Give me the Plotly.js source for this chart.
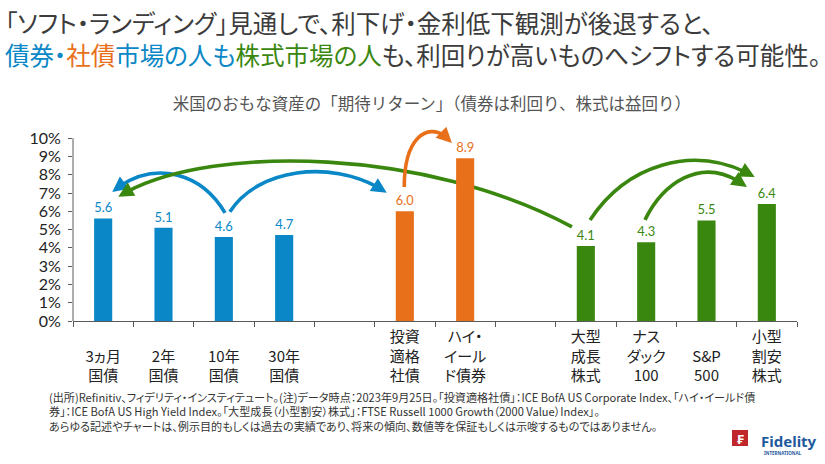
<!DOCTYPE html>
<html><head><meta charset="utf-8">
<script src="https://cdn.plot.ly/plotly-3.0.1.min.js"></script>
<style>
html,body{margin:0;padding:0;background:#fff;}
#chart{width:825px;height:464px;}
svg text{font-feature-settings:"palt" 1;}
.annotation[data-index="6"] text{font-feature-settings:normal;}
</style>
</head><body><div id="chart"></div>
<script>
// ---- data ----
const bondCats = ['3ヵ月<br>国債', '2年<br>国債', '10年<br>国債', '30年<br>国債'];
const bondVals = [5.6, 5.1, 4.6, 4.7];
const corpCats = ['投資<br>適格<br>社債', 'ハイ・<br>イール<br>ド債券'];
const corpVals = [6.0, 8.9];
const equityCats = ['大型<br>成長<br>株式', 'ナス<br>ダック<br>100', 'S&P<br>500', '小型<br>割安<br>株式'];
const equityVals = [4.1, 4.3, 5.5, 6.4];
const spacers = ['\u2002', '\u2003'];
const yTicks = [0,1,2,3,4,5,6,7,8,9,10];

// ---- style ----
const BLUE = '#0a87c6', ORANGE = '#e8701b', GREEN = '#3a870f', TEXT = '#333333', AXIS = '#5a5a5a';
const FONT = '"Noto Sans CJK JP", "Noto Sans", sans-serif';
const NUMFONT = 'Lato, "Noto Sans", sans-serif';
const W = 825, H = 464, L = 73, R = 797, T = 129, B = 321, YMAX = 10.5;
const PX = x => (x - L) / (R - L);
const PY = y => (B - y) / (B - T);

// two-line labels get a leading blank line so that they sit lower, like the reference
const lab = c => c.split('<br>').length < 3 ? '\u00a0<br>' + c : c;
const bc = bondCats.map(lab), cc = corpCats.map(lab), ec = equityCats.map(lab);
const fmt = v => (v == null ? '' : v.toFixed(1));

function barTrace(xs, ys, color) {
  return {
    type: 'bar', x: xs, y: ys, width: 0.3,
    marker: {color: color, line: {width: 0}},
    text: ys.map(fmt), textposition: 'outside', cliponaxis: false,
    textfont: {family: NUMFONT, size: 16.5, color: color},
    hoverinfo: 'skip', showlegend: false
  };
}
const traces = [
  barTrace(bc.concat([spacers[0]]), bondVals.concat([null]), BLUE),
  barTrace(cc.concat([spacers[1]]), corpVals.concat([null]), ORANGE),
  barTrace(ec, equityVals, GREEN)
];
const catOrder = bc.concat([spacers[0]], cc, [spacers[1]], ec);

// ---- curved arrows (category index, percent) ----
const arrows = [
  {c: BLUE,   p: [[2.02,5.91],[1.60,8.26],[0.78,8.81],[0.15,7.06]]},
  {c: BLUE,   p: [[2.10,5.97],[2.60,8.54],[3.93,8.81],[4.70,7.01]]},
  {c: GREEN,  p: [[7.77,5.15],[5.25,9.63],[1.61,9.63],[0.25,6.79]]},
  {c: ORANGE, p: [[4.99,7.33],[4.99,10.50],[5.50,10.95],[5.78,9.74]]},
  {c: GREEN,  p: [[8.07,5.53],[8.73,8.81],[9.89,9.63],[10.80,7.88]]},
  {c: GREEN,  p: [[8.98,5.53],[9.31,7.72],[9.98,9.09],[10.67,7.33]]}
];
const sx = (R - L) / 12, sy = (B - T) / YMAX;
const lerp = (a, b, t) => [a[0] + (b[0]-a[0])*t, a[1] + (b[1]-a[1])*t];
function bez(p, t) {
  const a = lerp(p[0],p[1],t), b = lerp(p[1],p[2],t), c = lerp(p[2],p[3],t);
  const d = lerp(a,b,t), e = lerp(b,c,t);
  return {pt: lerp(d,e,t), left: [p[0], a, d, lerp(d,e,t)]};
}
const shapes = [
  {type:'line', xref:'paper', yref:'y', x0:0, x1:0, y0:0, y1:10, line:{color:AXIS, width:1}}
];
const annotations = [];
arrows.forEach(a => {
  let t = 1, q;
  const tip = a.p[3];
  while (t > 0.5) {
    t -= 0.005;
    q = bez(a.p, t);
    const dx = (q.pt[0]-tip[0])*sx, dy = (q.pt[1]-tip[1])*sy;
    if (Math.hypot(dx, dy) >= 10) break;
  }
  const cp = q.left;
  shapes.push({type:'path', xref:'x', yref:'y', layer:'below',
    path: `M${cp[0][0]},${cp[0][1]} C${cp[1][0]},${cp[1][1]} ${cp[2][0]},${cp[2][1]} ${cp[3][0]},${cp[3][1]}`,
    line: {color: a.c, width: 3.6}});
  annotations.push({xref:'x', yref:'y', axref:'x', ayref:'y', x: tip[0], y: tip[1],
    ax: cp[3][0], ay: cp[3][1], text:'', showarrow:true, arrowhead:2, arrowsize:0.85,
    arrowwidth:3.6, arrowcolor:a.c, standoff:0, startstandoff:0});
});

// ---- texts ----
const title = '「ソフト・ランディング」見通しで、利下げ・金利低下観測が後退すると、<br>' +
  `<span style="color:${BLUE}">債券・</span><span style="color:${ORANGE}">社債</span>` +
  `<span style="color:${BLUE}">市場の人も</span><span style="color:${GREEN}">株式市場の人</span>` +
  'も、利回りが高いものへシフトする可能性。';
const subtitle = '米国のおもな資産の「期待リターン」（債券は利回り、株式は益回り）';
const footnote = '(出所)Refinitiv、フィデリティ・インスティテュート。(注)データ時点：2023年9月25日。「投資適格社債」：ICE BofA US Corporate Index、「ハイ・イールド債<br>' +
  '券」：ICE BofA US High Yield Index。「大型成長（小型割安）株式」：FTSE Russell 1000 Growth（2000 Value）Index」。<br>' +
  'あらゆる記述やチャートは、例示目的もしくは過去の実績であり、将来の傾向、数値等を保証もしくは示唆するものではありません。';

annotations.push(
  {xref:'paper', yref:'paper', x:PX(432), y:PY(103), xanchor:'center', yanchor:'middle', showarrow:false,
   text: subtitle, font:{family:FONT, size:16.5, color:'#555555'}},
  {xref:'paper', yref:'paper', x:PX(47), y:PY(387), xanchor:'left', yanchor:'top', align:'left', showarrow:false,
   text: footnote, font:{family:FONT, size:11.1, color:TEXT}},
  {xref:'paper', yref:'paper', x:PX(740), y:PY(438.5), xanchor:'center', yanchor:'middle', showarrow:false,
   text:'<b>₣</b>', font:{family:FONT, size:13, color:'#ffffff'}},
  {xref:'paper', yref:'paper', x:PX(759), y:PY(441), xanchor:'left', yanchor:'middle', showarrow:false,
   text:'<b>Fidelity</b>', font:{family:'"Noto Sans", sans-serif', size:15, color:'#1f5a9e'}},
  {xref:'paper', yref:'paper', x:PX(762), y:PY(452.5), xanchor:'left', yanchor:'middle', showarrow:false,
   text:'<b>INTERNATIONAL</b>', font:{family:'"Noto Sans", sans-serif', size:4.5, color:'#1f5a9e'}}
);
shapes.push({type:'rect', xref:'paper', yref:'paper', x0:PX(732), x1:PX(748), y0:PY(446), y1:PY(430),
  fillcolor:'#c0272d', line:{width:0}});

const layout = {
  width: W, height: H,
  margin: {l: L, r: W - R, t: T, b: H - B, pad: 0},
  paper_bgcolor: '#ffffff', plot_bgcolor: '#ffffff',
  font: {family: FONT, color: TEXT},
  barmode: 'overlay',
  title: {text: title, xref:'container', yref:'container', x: 5/W, xanchor:'left', y: 1 - 33/H, yanchor:'top',
          font: {family: FONT, size: 24.5, color: '#3c3c3c'}},
  xaxis: {type:'category', categoryorder:'array', categoryarray: catOrder, range:[-0.5, 11.5],
          tickson:'boundaries', ticks:'outside', ticklen:5, tickcolor:AXIS, showline:true, linecolor:AXIS,
          linewidth:1, showgrid:false, zeroline:false, fixedrange:true, ticklabelstandoff:2,
          tickfont:{family:FONT, size:15, color:'#222222'}},
  yaxis: {range:[0, YMAX], tickmode:'array', tickvals: yTicks, ticktext: yTicks.map(v => v + '%'),
          ticks:'outside', ticklen:4, tickcolor:AXIS, showline:false, showgrid:false, zeroline:false,
          ticklabelstandoff:4, fixedrange:true, tickfont:{family:NUMFONT, size:16, color:'#222222'}},
  shapes: shapes, annotations: annotations
};
Plotly.newPlot('chart', traces, layout, {displayModeBar:false, staticPlot:true});
</script>
</body></html>
